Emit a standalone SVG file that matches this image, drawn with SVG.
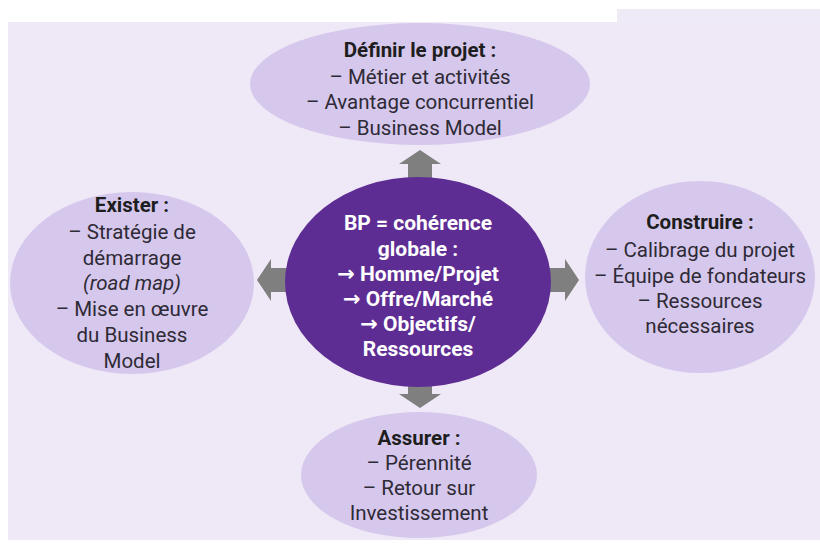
<svg xmlns="http://www.w3.org/2000/svg" width="820" height="550" viewBox="0 0 820 550">
<defs>
<style>
.bg{fill:#efe9f7}
.node{fill:#d6c8ec}
.center{fill:#5e2d94}
.arrow{fill:#7f7f7f}
text{font-family:Roboto,"Open Sans","DejaVu Sans",sans-serif;font-size:20.5px;text-anchor:middle;fill:#2e2a36}
.t{font-weight:bold;fill:#1e1e1e}
.w{font-weight:bold;fill:#ffffff;font-size:21px}
.i{font-style:italic}
</style>
<path id="arr" d="M0,0 L-14,-21 L-14,-12 L-30,-12 L-30,12 L-14,12 L-14,21 Z"/>
</defs>
<rect x="0" y="0" width="820" height="550" fill="#ffffff"/>
<rect class="bg" x="8" y="22" width="812" height="518"/>
<rect x="617" y="9" width="203" height="14" fill="#efebf6"/>
<g id="connectors" class="arrow">
<use href="#arr" transform="translate(420,150) rotate(-90)"/>
<use href="#arr" transform="translate(420,408) rotate(90)"/>
<use href="#arr" transform="translate(257,280) rotate(180)"/>
<use href="#arr" transform="translate(579,280)"/>
</g>
<g id="definir">
<ellipse class="node" cx="420" cy="84" rx="170" ry="61"/>
<text class="t" x="420" y="57">Définir le projet :</text>
<text x="420" y="84">– Métier et activités</text>
<text x="420" y="109">– Avantage concurrentiel</text>
<text x="420" y="135">– Business Model</text>
</g>
<g id="exister">
<ellipse class="node" cx="132" cy="283" rx="122" ry="91"/>
<text class="t" x="132" y="212">Exister :</text>
<text x="132" y="239">– Stratégie de</text>
<text x="132" y="265">démarrage</text>
<text class="i" x="132" y="290">(road map)</text>
<text x="132" y="316">– Mise en œuvre</text>
<text x="132" y="342">du Business</text>
<text x="132" y="368">Model</text>
</g>
<g id="construire">
<ellipse class="node" cx="700" cy="277" rx="115" ry="96"/>
<text class="t" x="700" y="229">Construire :</text>
<text x="700" y="257">– Calibrage du projet</text>
<text x="700" y="283">– Équipe de fondateurs</text>
<text x="700" y="308">– Ressources</text>
<text x="700" y="333">nécessaires</text>
</g>
<g id="assurer">
<ellipse class="node" cx="419" cy="475" rx="118" ry="63"/>
<text class="t" x="419" y="445">Assurer :</text>
<text x="419" y="470">– Pérennité</text>
<text x="419" y="495">– Retour sur</text>
<text x="419" y="520">Investissement</text>
</g>
<g id="bp">
<ellipse class="center" cx="418" cy="282" rx="133" ry="105"/>
<text class="w" x="418" y="230">BP = cohérence</text>
<text class="w" x="418" y="256">globale :</text>
<text class="w" x="418" y="281">→ Homme/Projet</text>
<text class="w" x="418" y="306">→ Offre/Marché</text>
<text class="w" x="418" y="331">→ Objectifs/</text>
<text class="w" x="418" y="356">Ressources</text>
</g>
</svg>
